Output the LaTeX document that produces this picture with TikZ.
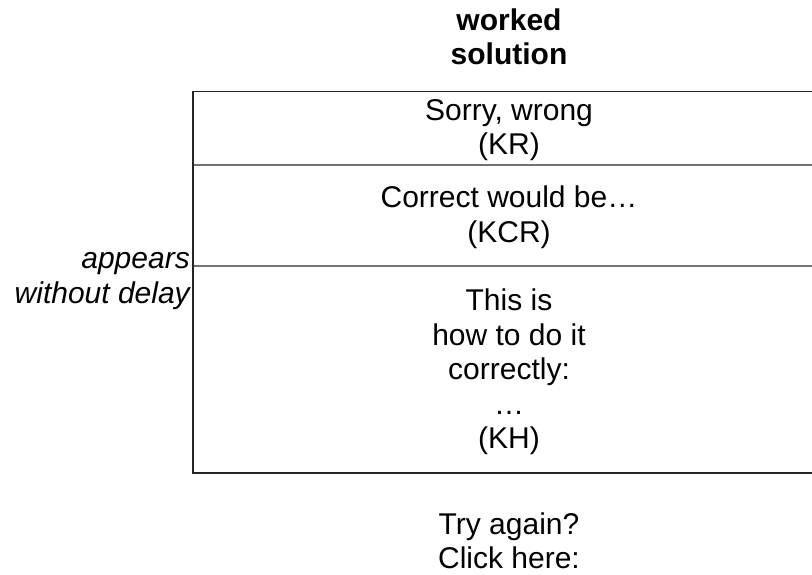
\documentclass[tikz,border=0pt]{standalone}
\usepackage{fontspec}
\setmainfont{Liberation Sans}
\begin{document}
\begin{tikzpicture}[x=1pt,y=-1pt,
  txt/.style={inner sep=0pt, align=center, font=\fontsize{30}{34.5}\selectfont},
  border/.style={draw=black!85, line width=1.3pt},
  divider/.style={draw=black!55, line width=1.3pt}]
\useasboundingbox (0,0) rectangle (812,574);
\clip (0,0) rectangle (812,574);
% box
\draw[divider] (193,165) -- (830,165);
\draw[divider] (193,266) -- (830,266);
\draw[border] (830,91.7) -- (193,91.7) -- (193,473) -- (830,473);
% texts
\node[txt, font={\fontsize{30}{34.5}\selectfont\bfseries}] (title) at (509,37) {worked\\solution};
\node[txt] (kr) at (509,130) {Sorry, wrong\\(KR)};
\node[txt] (kcr) at (509,217) {Correct would be…\\(KCR)};
\node[txt] (kh) at (509,372) {This is\\how to do it\\correctly:\\…\\(KH)};
\node[txt, anchor=east, align=right, font={\fontsize{30}{34.5}\selectfont\itshape}] (delay) at (190,281) {appears\\without delay};
\node[txt] (retry) at (509,541) {Try again?\\Click here:};
\end{tikzpicture}
\end{document}
